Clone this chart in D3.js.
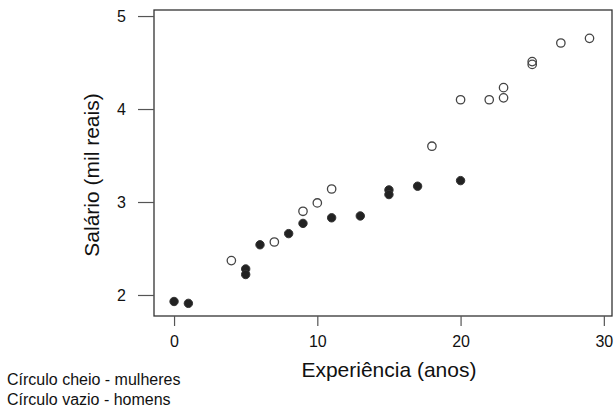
<!DOCTYPE html>
<html>
<head>
<meta charset="utf-8">
<script src="https://cdn.jsdelivr.net/npm/d3@7"></script>
<style>
  body { margin: 0; background: #fff; }
  svg { font-family: "Liberation Sans", Arial, sans-serif; }
</style>
</head>
<body>
<div id="chart"></div>
<script>
// women (filled circles)
let womenExp = [0, 1, 5, 5, 6, 8, 9, 11, 13, 15, 15, 17, 20];
let womenSal = [1.93, 1.91, 2.28, 2.22, 2.54, 2.66, 2.77, 2.83, 2.85, 3.13, 3.08, 3.17, 3.23];

// men (open circles)
let menExp = [4, 7, 9, 10, 11, 18, 20, 22, 23, 23, 25, 25, 27, 29];
let menSal = [2.37, 2.57, 2.90, 2.99, 3.14, 3.60, 4.10, 4.10, 4.23, 4.12, 4.51, 4.48, 4.71, 4.76];

let xTicks = [0, 10, 20, 30];
let yTicks = [2, 3, 4, 5];

let legendLines = ["Círculo cheio - mulheres", "Círculo vazio - homens"];

(function() {

  // set the dimensions and margins of the graph
  let margin = {top: 10, right: 3, bottom: 94, left: 154},
      width = 615 - margin.left - margin.right,
      height = 410 - margin.top - margin.bottom;

  let root = d3.select("#chart")
    .append("svg")
      .attr("width", 615)
      .attr("height", 410);

  let svg = root.append("g")
      .attr("transform", "translate(" + margin.left + "," + margin.top + ")");

  let x = d3.scaleLinear()
      .domain([-1.4, 30.57])
      .range([0, width]);

  let y = d3.scaleLinear()
      .domain([1.774, 5.065])
      .range([height, 0]);

  // box
  svg.append("rect")
      .attr("width", width)
      .attr("height", height)
      .attr("fill", "none")
      .attr("stroke", "#333")
      .attr("stroke-width", 1.3);

  // X axis
  let xAxis = svg.append("g")
      .attr("transform", "translate(0," + height + ")")
      .call(d3.axisBottom(x).tickValues(xTicks).tickSize(10).tickPadding(10).tickFormat(d3.format("d")));
  xAxis.select(".domain").remove();
  xAxis.selectAll("line").attr("stroke", "#555").attr("stroke-width", 1.2);
  xAxis.selectAll("text").attr("font-size", 16).attr("fill", "#111").attr("font-family", "Liberation Sans, Arial, sans-serif");

  // Y axis
  let yAxis = svg.append("g")
      .call(d3.axisLeft(y).tickValues(yTicks).tickSize(16).tickPadding(12).tickFormat(d3.format("d")));
  yAxis.select(".domain").remove();
  yAxis.selectAll("line").attr("stroke", "#555").attr("stroke-width", 1.2);
  yAxis.selectAll("text").attr("font-size", 16).attr("fill", "#111").attr("font-family", "Liberation Sans, Arial, sans-serif");

  // axis titles
  svg.append("text")
      .attr("x", x(15))
      .attr("y", height + 61)
      .attr("text-anchor", "middle")
      .attr("font-size", 21)
      .attr("fill", "#111")
      .text("Experiência (anos)");

  svg.append("text")
      .attr("transform", "translate(" + (-55) + "," + (height / 2 + 12) + ") rotate(-90)")
      .attr("text-anchor", "middle")
      .attr("font-size", 21)
      .attr("fill", "#111")
      .text("Salário (mil reais)");

  // points: men (open)
  let men = menExp.map((e, i) => ({ exp: e, sal: menSal[i] }));
  svg.append("g")
    .selectAll("circle")
    .data(men)
    .enter()
    .append("circle")
      .attr("cx", d => x(d.exp))
      .attr("cy", d => y(d.sal))
      .attr("r", 4.2)
      .attr("fill", "none")
      .attr("stroke", "#444")
      .attr("stroke-width", 1.3);

  // points: women (filled)
  let women = womenExp.map((e, i) => ({ exp: e, sal: womenSal[i] }));
  svg.append("g")
    .selectAll("circle")
    .data(women)
    .enter()
    .append("circle")
      .attr("cx", d => x(d.exp))
      .attr("cy", d => y(d.sal))
      .attr("r", 4.2)
      .attr("fill", "#222")
      .attr("stroke", "#333")
      .attr("stroke-width", 1);

  // legend note
  root.append("g")
    .selectAll("text")
    .data(legendLines)
    .enter()
    .append("text")
      .attr("x", 7)
      .attr("y", (d, i) => 385 + i * 20)
      .attr("font-size", 16)
      .attr("fill", "#111")
      .text(d => d);

})();
</script>
</body>
</html>
